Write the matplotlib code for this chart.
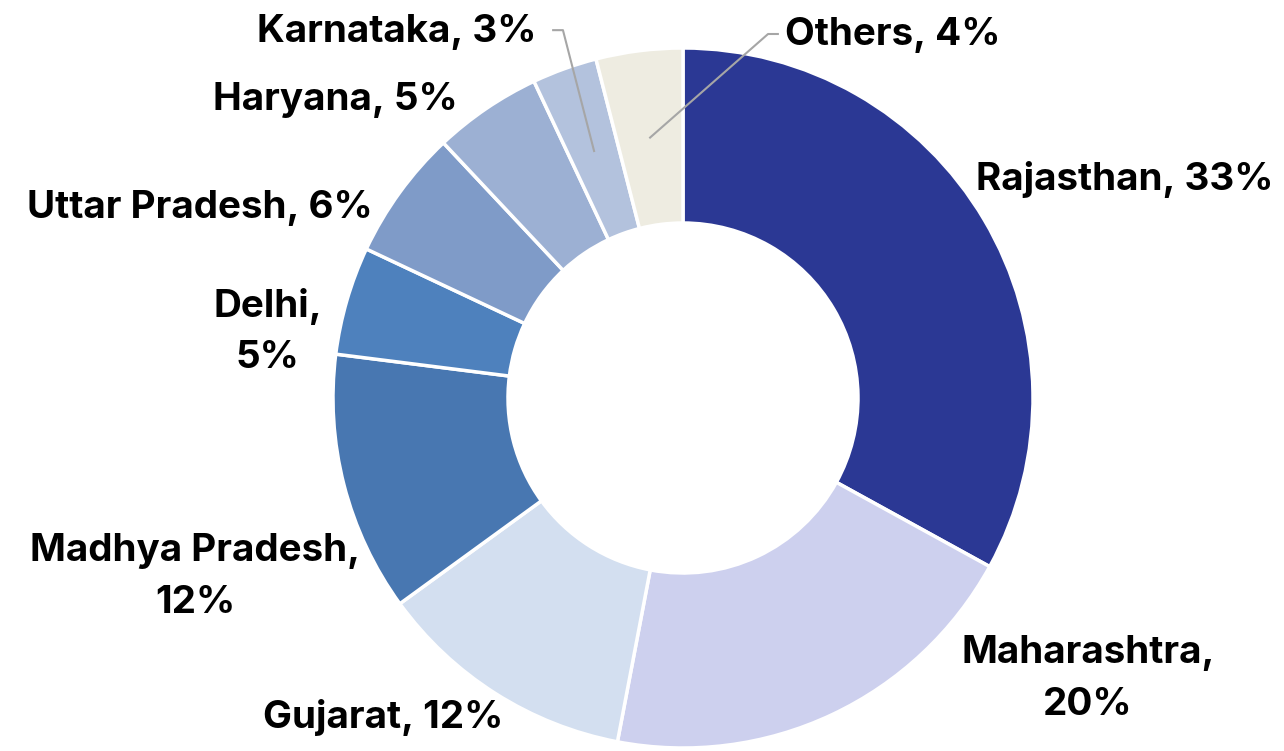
import numpy as np
import matplotlib
matplotlib.use("Agg")
import matplotlib.pyplot as plt

# share by state, clockwise from top
states = ["Rajasthan", "Maharashtra", "Gujarat", "Madhya Pradesh", "Delhi",
          "Uttar Pradesh", "Haryana", "Karnataka", "Others"]
shares = [33, 20, 12, 12, 5, 6, 5, 3, 4]
colors = ["#2B3894", "#CDD0EE", "#D3DFF0", "#4877B1", "#4E81BD",
          "#7F9BC8", "#9CB0D3", "#B3C2DD", "#EEECE1"]

# label text and placement (axes units, radius = 1)
label_text = ["Rajasthan, 33%", "Maharashtra,\n20%", "Gujarat, 12%",
              "Madhya Pradesh,\n12%", "Delhi,\n5%", "Uttar Pradesh, 6%",
              "Haryana, 5%", "Karnataka, 3%", "Others, 4%"]
label_pos = [(1.263, 0.623), (1.157, -0.803), (-0.857, -0.914),
             (-1.394, -0.511), (-1.186, 0.189), (-1.380, 0.543),
             (-0.994, 0.851), (-0.817, 1.046), (0.600, 1.037)]

W, H = 1284, 751
cx, cy, R = 683, 398, 350
fig = plt.figure(figsize=(W / 100, H / 100), dpi=100)
ax = fig.add_axes([0, 0, 1, 1])

ax.pie(shares, colors=colors, startangle=90, counterclock=False, radius=1,
       wedgeprops=dict(width=0.5, edgecolor="white", linewidth=2.5))
ax.set_xlim(-cx / R, (W - cx) / R)
ax.set_ylim(-(H - cy) / R, cy / R)
ax.axis("off")

font = dict(family="Inter", fontweight="bold", fontsize=27.8, color="black")
for txt, (x, y) in zip(label_text, label_pos):
    ax.text(x, y, txt, ha="center", va="center", linespacing=1.55, **font)

# leader lines for the two small slices at the top
cum = np.cumsum([0] + shares)
for i, (hx, hy, dx) in {7: (-0.371, 1.051, 0.028), 8: (0.271, 1.04, -0.028)}.items():
    mid = (cum[i] + cum[i + 1]) / 2 / sum(shares) * 2 * np.pi
    ex, ey = 0.75 * np.sin(mid), 0.75 * np.cos(mid)
    ax.plot([hx, hx + dx, ex], [hy, hy, ey], color="#A6A6A6", lw=1.5)

fig.savefig("out.png", dpi=100)
